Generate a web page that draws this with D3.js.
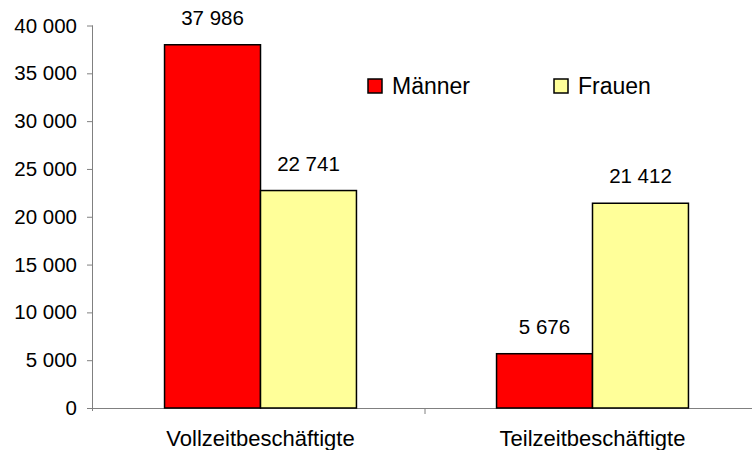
<!DOCTYPE html>
<html>
<head>
<meta charset="utf-8">
<script src="https://cdn.jsdelivr.net/npm/d3@7"></script>
<style>
  body { margin: 0; background: #fff; }
  svg { display: block; font-family: "Liberation Sans", Arial, sans-serif; }
</style>
</head>
<body>
<div id="chart-area"></div>
<script>
var categories = ["Vollzeitbeschäftigte", "Teilzeitbeschäftigte"];
var seriesNames = ["Männer", "Frauen"];
var maenner = [37986, 5676];
var frauen = [22741, 21412];
var yTicks = [0, 5000, 10000, 15000, 20000, 25000, 30000, 35000, 40000];
var colors = ["#ff0000", "#ffff99"];

var margin = { left: 93, right: 0, top: 25.5, bottom: 42 };
var width = 664;
var height = 408 - margin.top;

var svg = d3.select("#chart-area").append("svg")
    .attr("width", 752)
    .attr("height", 450);

var g = svg.append("g")
    .attr("transform", `translate(${margin.left}, ${margin.top})`);

var x0 = d3.scaleBand()
    .domain(categories)
    .range([0, width])
    .padding(0);

// group of two bars, nudged slightly right of band centre as in the original
var x1 = d3.scaleBand()
    .domain(seriesNames)
    .range([1.5, x0.bandwidth() + 1.5])
    .paddingInner(0)
    .paddingOuter(0.73);

var y = d3.scaleLinear()
    .domain([0, 40000])
    .range([height, 0]);

var fmt = d => d3.format(",")(d).replace(/,/g, " ");

// y axis
var yAxisGroup = g.append("g")
    .call(d3.axisLeft(y).tickValues(yTicks).tickSize(6).tickPadding(10).tickFormat(fmt));
yAxisGroup.select(".domain").attr("d", `M-0.5,${height + 3}V0`);
yAxisGroup.selectAll("text").attr("font-size", 20.5).attr("fill", "#000").attr("font-family", "Liberation Sans, Arial, sans-serif");

// x axis
var xAxisGroup = g.append("g")
    .attr("transform", `translate(0, ${height})`)
    .call(d3.axisBottom(x0).tickSize(0).tickFormat(""));
xAxisGroup.select(".domain").attr("d", `M0,0.5H${width}`);
xAxisGroup.append("line")
    .attr("x1", x0(categories[1])).attr("x2", x0(categories[1]))
    .attr("y1", 0).attr("y2", 6)
    .attr("stroke", "#808080");

g.selectAll(".tick line, .domain").attr("stroke", "#808080");

g.selectAll(".cat-label")
    .data(categories)
    .enter().append("text")
    .attr("class", "cat-label")
    .attr("x", d => x0(d) + x0.bandwidth() / 2 + 1.5)
    .attr("y", height + 38)
    .attr("text-anchor", "middle")
    .attr("font-size", 22)
    .text(d => d);

// bars
var data = [];
categories.forEach((c, i) => {
    data.push({ cat: c, series: seriesNames[0], value: maenner[i], color: colors[0] });
    data.push({ cat: c, series: seriesNames[1], value: frauen[i], color: colors[1] });
});

g.selectAll("rect.bar")
    .data(data)
    .enter().append("rect")
    .attr("class", "bar")
    .attr("x", d => x0(d.cat) + x1(d.series))
    .attr("y", d => y(d.value))
    .attr("width", x1.bandwidth())
    .attr("height", d => height - y(d.value))
    .attr("fill", d => d.color)
    .attr("stroke", "#000")
    .attr("stroke-width", 1.5);

g.selectAll(".val-label")
    .data(data)
    .enter().append("text")
    .attr("class", "val-label")
    .attr("x", d => x0(d.cat) + x1(d.series) + x1.bandwidth() / 2)
    .attr("y", d => y(d.value) - 20)
    .attr("text-anchor", "middle")
    .attr("font-size", 20.5)
    .text(d => fmt(d.value));

// legend
var legendX = [368, 554];
var legend = svg.selectAll(".legend")
    .data(seriesNames)
    .enter().append("g")
    .attr("class", "legend")
    .attr("transform", (d, i) => `translate(${legendX[i]}, 79)`);

legend.append("rect")
    .attr("width", 14)
    .attr("height", 14)
    .attr("fill", (d, i) => colors[i])
    .attr("stroke", "#000")
    .attr("stroke-width", 1.5);

legend.append("text")
    .attr("x", 24)
    .attr("y", 14.5)
    .attr("font-size", 23)
    .text(d => d);
</script>
</body>
</html>
